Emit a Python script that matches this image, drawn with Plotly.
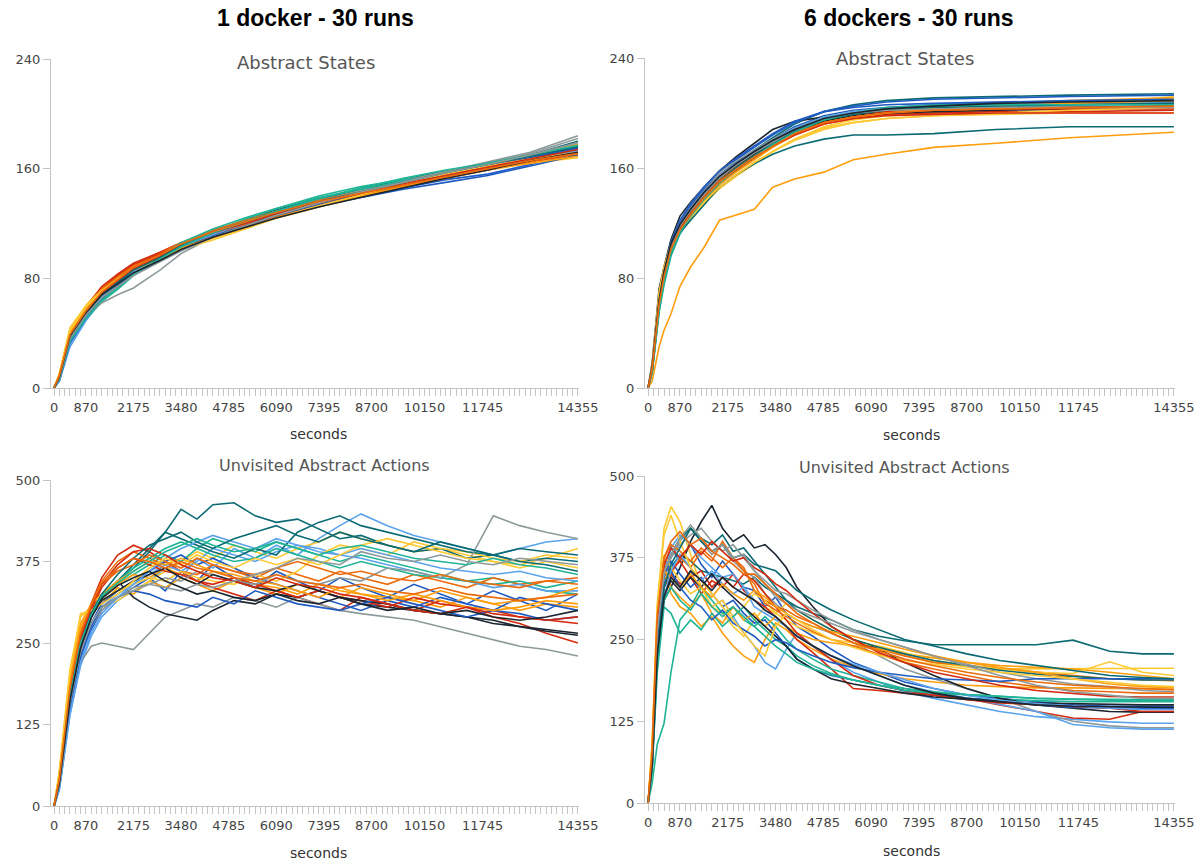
import plotly.graph_objects as go

# ---------------- data ----------------
colors = ["#1f5bc2", "#5ba3ec", "#ff9e0d", "#ffc933", "#d42a0f",
          "#0b6b73", "#1fb496", "#8e9a9a", "#1b2630", "#ec6b0c"]

x_tickvals = [0, 870, 2175, 3480, 4785, 6090, 7395, 8700, 10150, 11745, 14355]
x_ticktext = ["0", "870", "2175", "3480", "4785", "6090", "7395", "8700", "10150", "11745", "14355"]
states_ticks = [0, 80, 160, 240]
actions_ticks = [0, 125, 250, 375, 500]

# 1 docker - Abstract States
t_states_1 = [0, 145, 435, 870, 1305, 1740, 2175, 2900, 3480, 4350, 5220, 6090, 7250, 8410, 9570, 10730, 11890, 13050, 14355]
states_1 = [
    [0, 6, 34, 52, 66, 76, 85, 95, 104, 112, 119, 126, 134, 140, 146, 152, 156, 163, 171],
    [0, 5, 30, 49, 64, 74, 84, 94, 102, 112, 120, 128, 137, 145, 152, 158, 164, 170, 178],
    [0, 10, 42, 60, 73, 82, 90, 99, 106, 114, 121, 127, 135, 141, 148, 154, 160, 165, 170],
    [0, 9, 40, 58, 70, 78, 87, 97, 104, 112, 118, 125, 134, 146, 152, 157, 161, 164, 168],
    [0, 9, 41, 59, 74, 83, 91, 99, 106, 114, 121, 127, 134, 141, 148, 154, 160, 166, 172],
    [0, 7, 36, 54, 68, 77, 86, 96, 105, 115, 122, 130, 138, 145, 152, 158, 164, 170, 177],
    [0, 6, 33, 50, 63, 72, 82, 93, 103, 114, 123, 131, 140, 147, 152, 157, 163, 169, 176],
    [0, 7, 35, 52, 62, 68, 73, 86, 98, 110, 118, 126, 136, 144, 151, 158, 165, 172, 184],
    [0, 9, 40, 57, 70, 78, 86, 95, 102, 111, 118, 125, 133, 140, 147, 154, 160, 166, 173],
    [0, 8, 39, 57, 71, 80, 89, 98, 106, 115, 122, 129, 137, 143, 149, 155, 161, 167, 174],
    [0, 7, 37, 54, 67, 75, 84, 94, 102, 111, 118, 125, 133, 139, 145, 150, 155, 162, 170],
    [0, 5, 32, 50, 66, 76, 86, 96, 104, 114, 121, 128, 136, 143, 150, 157, 163, 168, 175],
    [0, 10, 41, 58, 72, 81, 89, 97, 105, 114, 121, 128, 136, 143, 150, 157, 163, 169, 178],
    [0, 11, 44, 60, 72, 80, 87, 95, 101, 108, 116, 124, 132, 142, 150, 157, 163, 168, 173],
    [0, 8, 38, 56, 72, 82, 90, 98, 104, 112, 119, 126, 134, 141, 147, 153, 159, 165, 171],
    [0, 7, 35, 53, 67, 76, 85, 94, 103, 113, 120, 127, 135, 142, 149, 156, 163, 170, 180],
    [0, 8, 37, 54, 66, 74, 83, 96, 106, 116, 124, 131, 139, 145, 151, 156, 161, 167, 174],
    [0, 8, 38, 55, 68, 76, 84, 93, 101, 110, 118, 126, 135, 143, 150, 157, 164, 171, 182],
    [0, 9, 39, 56, 69, 77, 85, 94, 102, 112, 119, 126, 134, 141, 148, 155, 161, 167, 176],
    [0, 9, 40, 58, 72, 81, 89, 97, 104, 112, 119, 125, 133, 140, 147, 154, 160, 165, 172],
    [0, 6, 33, 51, 65, 74, 83, 93, 101, 111, 118, 126, 134, 142, 149, 156, 162, 168, 175],
    [0, 7, 36, 53, 67, 76, 85, 95, 103, 112, 120, 127, 135, 142, 149, 155, 161, 167, 173],
    [0, 9, 40, 57, 70, 79, 87, 95, 102, 110, 117, 124, 132, 140, 147, 153, 159, 164, 169],
    [0, 10, 42, 59, 71, 79, 86, 94, 101, 109, 116, 124, 133, 141, 149, 156, 162, 167, 172],
    [0, 8, 37, 55, 69, 78, 87, 96, 104, 113, 120, 127, 135, 142, 149, 155, 161, 167, 174],
    [0, 7, 36, 54, 68, 77, 86, 95, 104, 114, 121, 128, 136, 143, 150, 157, 163, 169, 176],
    [0, 6, 34, 51, 64, 73, 83, 94, 103, 113, 121, 129, 138, 146, 153, 159, 164, 170, 177],
    [0, 7, 36, 53, 66, 74, 82, 92, 100, 110, 118, 126, 135, 143, 150, 157, 163, 170, 179],
    [0, 8, 38, 55, 68, 76, 84, 93, 101, 110, 117, 124, 132, 139, 146, 153, 159, 166, 172],
    [0, 9, 39, 56, 70, 79, 88, 97, 105, 114, 121, 128, 136, 142, 148, 154, 160, 166, 171],
]

# 6 dockers - Abstract States
t_states_6 = [0, 110, 300, 435, 625, 870, 1160, 1520, 1950, 2400, 2900, 3400, 4000, 4800, 5600, 6500, 7800, 9500, 11500, 14355]
states_6 = [
    [0, 15, 66, 86, 106, 120, 131, 143, 155, 164, 173, 181, 190, 198, 202, 204, 206, 207, 208, 209],
    [0, 12, 58, 80, 103, 118, 129, 140, 152, 161, 170, 178, 187, 196, 200, 203, 205, 206, 207, 208],
    [0, 5, 30, 42, 54, 74, 88, 102, 122, 126, 130, 146, 152, 157, 166, 170, 175, 178, 182, 186],
    [0, 16, 68, 88, 104, 115, 124, 134, 145, 154, 163, 172, 181, 190, 195, 198, 200, 202, 205, 212],
    [0, 14, 63, 83, 101, 114, 124, 136, 148, 158, 167, 176, 184, 192, 196, 199, 200, 201, 201, 202],
    [0, 13, 60, 80, 101, 116, 128, 141, 153, 163, 173, 182, 192, 201, 206, 209, 211, 212, 213, 214],
    [0, 11, 55, 75, 96, 112, 124, 137, 150, 160, 169, 178, 187, 196, 200, 203, 205, 206, 207, 207],
    [0, 15, 65, 85, 105, 120, 132, 144, 155, 163, 171, 179, 187, 195, 199, 201, 203, 204, 205, 205],
    [0, 18, 72, 88, 108, 125, 135, 146, 158, 168, 178, 188, 194, 197, 199, 200, 201, 202, 203, 204],
    [0, 14, 62, 82, 101, 115, 126, 138, 150, 159, 168, 177, 186, 195, 200, 203, 205, 206, 207, 208],
    [0, 16, 67, 86, 106, 121, 133, 145, 157, 166, 175, 184, 193, 201, 205, 208, 210, 211, 212, 213],
    [0, 13, 60, 81, 102, 117, 129, 141, 153, 162, 171, 179, 188, 196, 200, 202, 204, 205, 206, 206],
    [0, 15, 64, 84, 103, 117, 128, 139, 150, 159, 168, 177, 186, 194, 199, 202, 205, 207, 209, 211],
    [0, 14, 61, 82, 101, 114, 124, 135, 146, 155, 164, 172, 181, 189, 193, 196, 198, 199, 200, 200],
    [0, 13, 59, 80, 100, 115, 127, 139, 151, 161, 170, 179, 188, 196, 199, 201, 202, 203, 203, 203],
    [0, 12, 60, 78, 98, 113, 122, 133, 146, 155, 163, 170, 176, 181, 184, 184, 185, 188, 190, 190],
    [0, 12, 57, 78, 99, 114, 126, 138, 150, 160, 170, 179, 189, 197, 201, 204, 206, 207, 208, 209],
    [0, 16, 66, 86, 106, 122, 134, 146, 157, 165, 173, 181, 189, 197, 201, 203, 205, 206, 207, 207],
    [0, 15, 63, 83, 102, 116, 127, 139, 151, 161, 170, 178, 186, 194, 198, 200, 202, 203, 204, 205],
    [0, 15, 64, 84, 104, 118, 128, 139, 151, 160, 169, 177, 185, 193, 197, 200, 202, 203, 204, 204],
    [0, 14, 62, 84, 106, 122, 134, 146, 158, 167, 176, 185, 194, 201, 204, 206, 207, 208, 209, 210],
    [0, 14, 62, 83, 104, 119, 130, 142, 154, 163, 172, 180, 189, 197, 201, 203, 205, 206, 207, 208],
    [0, 13, 60, 80, 100, 114, 125, 136, 148, 157, 166, 175, 184, 192, 197, 200, 203, 205, 207, 209],
    [0, 17, 70, 88, 104, 116, 125, 135, 146, 155, 164, 172, 180, 188, 193, 196, 198, 200, 202, 204],
    [0, 14, 62, 82, 102, 116, 127, 138, 150, 159, 168, 176, 184, 192, 196, 198, 199, 200, 200, 200],
    [0, 13, 61, 81, 101, 115, 126, 138, 150, 160, 169, 178, 187, 195, 199, 202, 204, 205, 206, 207],
    [0, 11, 56, 77, 98, 113, 125, 137, 149, 159, 168, 177, 186, 195, 200, 203, 205, 206, 206, 206],
    [0, 14, 63, 83, 103, 118, 129, 141, 153, 162, 171, 179, 188, 196, 200, 202, 203, 204, 204, 204],
    [0, 15, 64, 85, 105, 119, 130, 142, 154, 163, 172, 180, 188, 196, 200, 203, 205, 207, 208, 209],
    [0, 14, 61, 81, 101, 115, 126, 138, 150, 159, 168, 176, 185, 193, 197, 200, 202, 203, 204, 205],
]

# 1 docker - Unvisited Abstract Actions
t_actions_1 = [0, 145, 435, 725, 1015, 1305, 1740, 2175, 2610, 3045, 3480, 3915, 4350, 4930, 5510, 6090, 6670, 7250, 7830, 8410, 9135, 9860, 10585, 11310, 12035, 12760, 13485, 14355]
actions_1 = [
    [0, 30, 150, 230, 270, 300, 320, 335, 350, 330, 360, 345, 370, 350, 335, 360, 345, 330, 350, 335, 320, 340, 325, 310, 330, 315, 300, 325],
    [0, 25, 140, 215, 260, 290, 315, 330, 345, 365, 350, 380, 365, 395, 380, 400, 385, 410, 430, 448, 430, 415, 405, 395, 385, 395, 405, 410],
    [0, 45, 180, 270, 300, 310, 335, 325, 345, 335, 350, 340, 330, 345, 335, 325, 340, 330, 320, 335, 325, 315, 305, 320, 310, 300, 310, 305],
    [0, 50, 200, 295, 300, 305, 315, 330, 345, 360, 375, 390, 380, 400, 390, 380, 395, 405, 420, 410, 400, 390, 395, 385, 375, 370, 380, 395],
    [0, 40, 175, 260, 310, 350, 385, 400, 390, 375, 360, 345, 335, 325, 315, 330, 320, 310, 300, 320, 310, 300, 315, 305, 290, 280, 265, 250],
    [0, 35, 165, 245, 295, 320, 345, 370, 395, 420, 455, 440, 462, 465, 445, 435, 440, 425, 410, 415, 400, 390, 395, 380, 385, 375, 380, 375],
    [0, 38, 170, 250, 290, 320, 340, 355, 370, 385, 375, 395, 410, 400, 390, 405, 395, 385, 375, 385, 375, 365, 355, 345, 350, 340, 330, 325],
    [0, 30, 150, 220, 245, 250, 245, 240, 265, 290, 300, 310, 305, 320, 315, 305, 320, 310, 300, 295, 290, 285, 275, 265, 255, 245, 240, 230],
    [0, 35, 160, 240, 290, 320, 345, 320, 305, 295, 290, 285, 300, 315, 310, 325, 320, 330, 320, 310, 305, 300, 295, 290, 285, 275, 268, 262],
    [0, 42, 185, 265, 310, 345, 375, 390, 380, 370, 360, 355, 370, 360, 350, 365, 355, 345, 360, 350, 340, 355, 345, 335, 350, 340, 345, 350],
    [0, 32, 155, 235, 280, 310, 330, 345, 360, 375, 385, 370, 380, 365, 350, 340, 330, 320, 310, 300, 315, 305, 320, 310, 300, 320, 310, 300],
    [0, 28, 145, 225, 275, 305, 325, 340, 355, 370, 360, 375, 395, 385, 375, 390, 400, 395, 385, 380, 370, 360, 350, 345, 335, 340, 330, 330],
    [0, 44, 190, 275, 305, 320, 340, 355, 350, 365, 355, 345, 360, 350, 340, 335, 325, 340, 330, 325, 320, 315, 330, 320, 310, 315, 320, 335],
    [0, 55, 210, 290, 305, 315, 330, 340, 350, 345, 360, 350, 345, 340, 355, 345, 360, 385, 400, 395, 385, 405, 395, 390, 380, 375, 385, 380],
    [0, 38, 170, 255, 300, 335, 365, 380, 370, 360, 355, 345, 340, 350, 340, 330, 320, 330, 320, 315, 305, 320, 310, 305, 300, 290, 285, 280],
    [0, 34, 160, 240, 290, 320, 345, 365, 390, 420, 410, 400, 390, 380, 395, 385, 420, 435, 445, 430, 420, 410, 400, 390, 385, 395, 390, 385],
    [0, 36, 165, 248, 295, 325, 345, 365, 380, 395, 405, 395, 385, 375, 380, 395, 385, 375, 365, 375, 365, 355, 350, 345, 340, 345, 335, 345],
    [0, 32, 155, 235, 275, 300, 320, 335, 340, 350, 345, 360, 355, 345, 340, 355, 345, 340, 350, 345, 365, 360, 350, 370, 445, 430, 420, 410],
    [0, 36, 165, 245, 290, 315, 330, 345, 355, 365, 350, 340, 355, 345, 335, 330, 340, 330, 320, 315, 310, 300, 295, 290, 280, 275, 270, 265],
    [0, 40, 180, 262, 305, 340, 360, 370, 385, 375, 365, 380, 370, 360, 355, 365, 375, 365, 355, 360, 350, 345, 355, 345, 340, 335, 345, 340],
    [0, 30, 150, 228, 275, 305, 320, 330, 325, 315, 310, 305, 320, 310, 330, 320, 310, 305, 300, 310, 320, 310, 300, 290, 300, 295, 285, 290],
    [0, 26, 140, 220, 265, 295, 320, 340, 360, 380, 395, 405, 415, 405, 395, 410, 400, 390, 385, 395, 385, 375, 365, 360, 355, 360, 350, 345],
    [0, 46, 195, 280, 310, 325, 345, 360, 375, 370, 380, 370, 360, 355, 345, 340, 330, 320, 335, 325, 315, 325, 315, 305, 300, 305, 315, 310],
    [0, 52, 205, 292, 300, 310, 325, 345, 365, 380, 370, 385, 375, 365, 380, 370, 380, 370, 385, 400, 410, 400, 390, 380, 375, 365, 375, 365],
    [0, 40, 172, 258, 305, 340, 370, 390, 395, 385, 370, 360, 350, 345, 335, 350, 340, 335, 325, 320, 310, 300, 295, 305, 295, 290, 285, 290],
    [0, 36, 168, 248, 295, 325, 355, 380, 400, 410, 420, 405, 395, 410, 420, 430, 415, 405, 420, 410, 400, 390, 405, 395, 385, 375, 370, 360],
    [0, 37, 168, 250, 292, 322, 342, 360, 375, 390, 400, 410, 400, 390, 395, 405, 395, 385, 395, 400, 390, 380, 375, 370, 380, 370, 365, 355],
    [0, 33, 158, 238, 280, 305, 320, 330, 340, 335, 330, 340, 335, 345, 355, 365, 380, 375, 370, 390, 380, 375, 385, 375, 370, 380, 375, 370],
    [0, 35, 162, 242, 288, 318, 338, 350, 360, 345, 335, 325, 330, 320, 315, 325, 315, 310, 320, 310, 300, 305, 295, 300, 290, 285, 290, 300],
    [0, 41, 182, 264, 308, 342, 365, 380, 375, 365, 375, 365, 360, 350, 345, 355, 345, 340, 335, 340, 330, 325, 335, 325, 320, 315, 320, 325],
]

# 6 dockers - Unvisited Abstract Actions
t_actions_6 = [0, 110, 250, 435, 625, 870, 1160, 1450, 1740, 2030, 2320, 2610, 2900, 3190, 3480, 3770, 4060, 4500, 5000, 5600, 6300, 7000, 7800, 8700, 9600, 10600, 11600, 12600, 13500, 14355]
actions_6 = [
    [0, 75, 280, 360, 390, 370, 395, 365, 345, 370, 350, 330, 325, 300, 315, 290, 270, 255, 235, 215, 200, 185, 175, 165, 160, 155, 150, 148, 148, 148],
    [0, 55, 220, 310, 350, 330, 355, 320, 300, 310, 285, 260, 240, 215, 205, 235, 260, 240, 220, 200, 185, 170, 160, 150, 140, 132, 128, 124, 122, 122],
    [0, 80, 270, 350, 320, 300, 290, 270, 285, 260, 240, 225, 215, 250, 275, 265, 250, 235, 220, 208, 198, 190, 185, 180, 178, 176, 176, 175, 174, 174],
    [0, 90, 300, 420, 453, 430, 380, 330, 300, 290, 270, 255, 280, 300, 290, 305, 295, 280, 265, 250, 238, 225, 215, 208, 205, 205, 205, 206, 206, 206],
    [0, 65, 240, 330, 350, 335, 345, 320, 340, 330, 350, 325, 310, 300, 285, 270, 250, 230, 205, 175, 172, 168, 165, 160, 150, 140, 130, 128, 140, 140],
    [0, 60, 230, 330, 360, 380, 370, 355, 350, 345, 340, 335, 345, 330, 320, 310, 300, 290, 280, 265, 255, 248, 242, 242, 242, 242, 249, 232, 228, 228],
    [0, 30, 90, 122, 200, 280, 300, 330, 310, 290, 300, 280, 270, 285, 270, 250, 235, 220, 205, 195, 185, 175, 168, 160, 158, 156, 155, 155, 155, 155],
    [0, 70, 270, 350, 375, 400, 420, 400, 380, 395, 370, 355, 345, 320, 305, 290, 280, 270, 260, 245, 225, 205, 190, 175, 160, 140, 125, 118, 115, 115],
    [0, 55, 225, 310, 330, 360, 400, 430, 455, 420, 400, 410, 390, 395, 380, 360, 330, 300, 270, 250, 235, 215, 195, 175, 160, 150, 145, 140, 139, 139],
    [0, 75, 280, 370, 350, 375, 360, 385, 370, 400, 375, 360, 325, 310, 300, 295, 285, 275, 260, 245, 235, 225, 215, 210, 205, 200, 195, 190, 188, 187],
    [0, 72, 260, 345, 370, 350, 330, 345, 320, 300, 310, 290, 275, 280, 260, 240, 220, 205, 195, 188, 180, 172, 165, 160, 155, 150, 146, 145, 145, 145],
    [0, 65, 260, 350, 390, 410, 395, 375, 360, 345, 350, 330, 300, 290, 280, 270, 255, 240, 225, 210, 195, 180, 170, 160, 150, 140, 120, 115, 113, 113],
    [0, 85, 280, 360, 330, 315, 300, 320, 290, 275, 300, 280, 290, 270, 285, 270, 260, 250, 245, 240, 235, 228, 222, 215, 210, 208, 205, 200, 195, 190],
    [0, 88, 290, 380, 360, 340, 320, 330, 300, 310, 285, 300, 320, 310, 290, 280, 270, 260, 250, 245, 240, 230, 218, 210, 205, 200, 198, 216, 200, 195],
    [0, 64, 240, 335, 355, 370, 345, 355, 330, 345, 330, 350, 340, 320, 300, 280, 260, 240, 220, 195, 180, 172, 165, 158, 153, 150, 148, 145, 140, 140],
    [0, 65, 260, 350, 380, 405, 420, 405, 395, 410, 385, 390, 370, 350, 330, 310, 295, 280, 265, 250, 238, 228, 218, 210, 203, 197, 193, 190, 188, 188],
    [0, 50, 200, 300, 290, 260, 280, 265, 290, 270, 285, 300, 280, 265, 250, 240, 225, 210, 198, 188, 180, 172, 168, 165, 163, 160, 158, 157, 157, 157],
    [0, 68, 265, 355, 375, 395, 410, 420, 400, 385, 395, 375, 355, 340, 325, 320, 310, 295, 280, 265, 250, 238, 225, 212, 200, 190, 182, 178, 172, 170],
    [0, 58, 228, 318, 340, 325, 345, 330, 350, 330, 315, 300, 285, 270, 255, 240, 220, 205, 190, 182, 175, 168, 162, 158, 155, 153, 152, 150, 150, 150],
    [0, 78, 285, 375, 395, 385, 370, 390, 375, 360, 375, 355, 335, 305, 295, 285, 275, 262, 250, 240, 228, 215, 205, 195, 185, 178, 172, 170, 168, 168],
    [0, 68, 245, 335, 355, 330, 310, 300, 280, 295, 275, 265, 255, 240, 250, 245, 235, 225, 215, 207, 200, 195, 190, 188, 186, 190, 190, 190, 190, 190],
    [0, 56, 222, 315, 355, 380, 360, 340, 355, 335, 320, 330, 310, 295, 285, 270, 255, 240, 225, 212, 200, 188, 175, 165, 157, 152, 148, 145, 143, 143],
    [0, 82, 275, 355, 345, 330, 350, 330, 315, 335, 320, 310, 325, 315, 300, 290, 280, 270, 262, 255, 245, 235, 225, 215, 207, 200, 190, 182, 178, 176],
    [0, 92, 305, 410, 440, 400, 360, 340, 320, 300, 280, 260, 240, 225, 270, 290, 280, 265, 250, 238, 226, 218, 212, 205, 200, 195, 190, 185, 180, 178],
    [0, 72, 275, 365, 390, 375, 395, 380, 400, 385, 370, 375, 360, 350, 335, 325, 310, 290, 270, 250, 230, 215, 200, 190, 180, 172, 167, 163, 162, 162],
    [0, 62, 235, 330, 365, 390, 420, 400, 385, 395, 375, 380, 365, 360, 355, 340, 325, 310, 295, 280, 265, 250, 240, 228, 218, 210, 202, 195, 192, 190],
    [0, 52, 210, 310, 330, 310, 295, 320, 300, 285, 300, 285, 270, 255, 240, 228, 215, 205, 196, 188, 180, 175, 170, 166, 163, 160, 159, 158, 158, 158],
    [0, 66, 262, 352, 380, 405, 425, 405, 385, 395, 375, 380, 355, 335, 315, 305, 295, 285, 275, 262, 250, 238, 225, 210, 195, 180, 170, 165, 160, 160],
    [0, 57, 226, 315, 345, 330, 355, 340, 325, 345, 330, 320, 310, 295, 285, 270, 255, 240, 225, 210, 195, 180, 168, 160, 155, 150, 148, 147, 146, 146],
    [0, 78, 288, 375, 400, 415, 395, 405, 385, 375, 365, 350, 350, 335, 320, 305, 290, 275, 260, 245, 232, 220, 210, 200, 192, 185, 180, 177, 175, 173],
]

# ---------------- figure ----------------
W, H = 1200, 864
fig = go.Figure()

panels = [
    ("x", "y", t_states_1, states_1),
    ("x2", "y2", t_states_6, states_6),
    ("x3", "y3", t_actions_1, actions_1),
    ("x4", "y4", t_actions_6, actions_6),
]
for xa, ya, tt, series in panels:
    for i, vals in enumerate(series):
        fig.add_trace(go.Scatter(
            x=tt, y=vals, mode="lines", xaxis=xa, yaxis=ya,
            line=dict(color=colors[i % len(colors)], width=1.6),
            showlegend=False, hoverinfo="skip"))

def px_x(a, b):
    return [a / W, b / W]

def px_y(top, bottom):
    return [1 - bottom / H, 1 - top / H]

line_col = "#c4c4c4"
tick_font = dict(family="DejaVu Sans", size=13, color="#444444")

def xaxis(domain, anchor):
    return dict(domain=domain, anchor=anchor, range=[-85, 14385],
                showline=True, linecolor=line_col, linewidth=1,
                showgrid=False, zeroline=False,
                tickmode="array", tickvals=x_tickvals, ticktext=x_ticktext,
                ticks="outside", ticklen=7, tickcolor=line_col, tickwidth=1,
                tickfont=tick_font, automargin=False,
                minor=dict(tickmode="linear", tick0=0, dtick=145, ticks="outside",
                           ticklen=7, tickcolor=line_col, tickwidth=1, showgrid=False))

def yaxis(domain, anchor, rng, tv):
    return dict(domain=domain, anchor=anchor, range=rng,
                showline=True, linecolor=line_col, linewidth=1,
                showgrid=False, zeroline=False,
                tickmode="array", tickvals=tv, automargin=False,
                ticks="outside", ticklen=7, tickcolor=line_col, tickwidth=1,
                tickfont=tick_font)

L = px_x(51, 579)
R = px_x(645, 1175)
fig.update_layout(
    width=W, height=H, autosize=False,
    margin=dict(l=0, r=0, t=0, b=0, pad=0, autoexpand=False),
    paper_bgcolor="white", plot_bgcolor="white",
    xaxis=xaxis(L, "y"),
    yaxis=yaxis(px_y(59, 388), "x", [0, 240], states_ticks),
    xaxis2=xaxis(R, "y2"),
    yaxis2=yaxis(px_y(58, 388), "x2", [0, 240], states_ticks),
    xaxis3=xaxis(L, "y3"),
    yaxis3=yaxis(px_y(480, 806), "x3", [0, 500], actions_ticks),
    xaxis4=xaxis(R, "y4"),
    yaxis4=yaxis(px_y(476, 803), "x4", [0, 500], actions_ticks),
)

def ann(text, x, y, size, color, family, bold=False):
    fig.add_annotation(
        text=("<b>%s</b>" % text) if bold else text,
        x=x / W, y=1 - y / H, xref="paper", yref="paper",
        xanchor="center", yanchor="middle", showarrow=False,
        font=dict(size=size, color=color, family=family))

ann("1 docker - 30 runs", 315, 18, 23, "#000000", "Liberation Sans", bold=True)
ann("6 dockers - 30 runs", 909, 18, 23, "#000000", "Liberation Sans", bold=True)
ann("Abstract States", 306, 63, 18, "#555555", "DejaVu Sans")
ann("Abstract States", 905, 59, 18, "#555555", "DejaVu Sans")
ann("Unvisited Abstract Actions", 324, 465, 16, "#555555", "DejaVu Sans")
ann("Unvisited Abstract Actions", 904, 468, 16, "#555555", "DejaVu Sans")
ann("seconds", 318, 434, 14, "#333333", "DejaVu Sans")
ann("seconds", 911, 435, 14, "#333333", "DejaVu Sans")
ann("seconds", 318, 853, 14, "#333333", "DejaVu Sans")
ann("seconds", 911, 851, 14, "#333333", "DejaVu Sans")

fig.write_html(
    "out.html",
    post_script="document.documentElement.style.margin='0';document.body.style.margin='0';"
                "document.body.style.padding='0';document.body.style.overflow='hidden';",
)
